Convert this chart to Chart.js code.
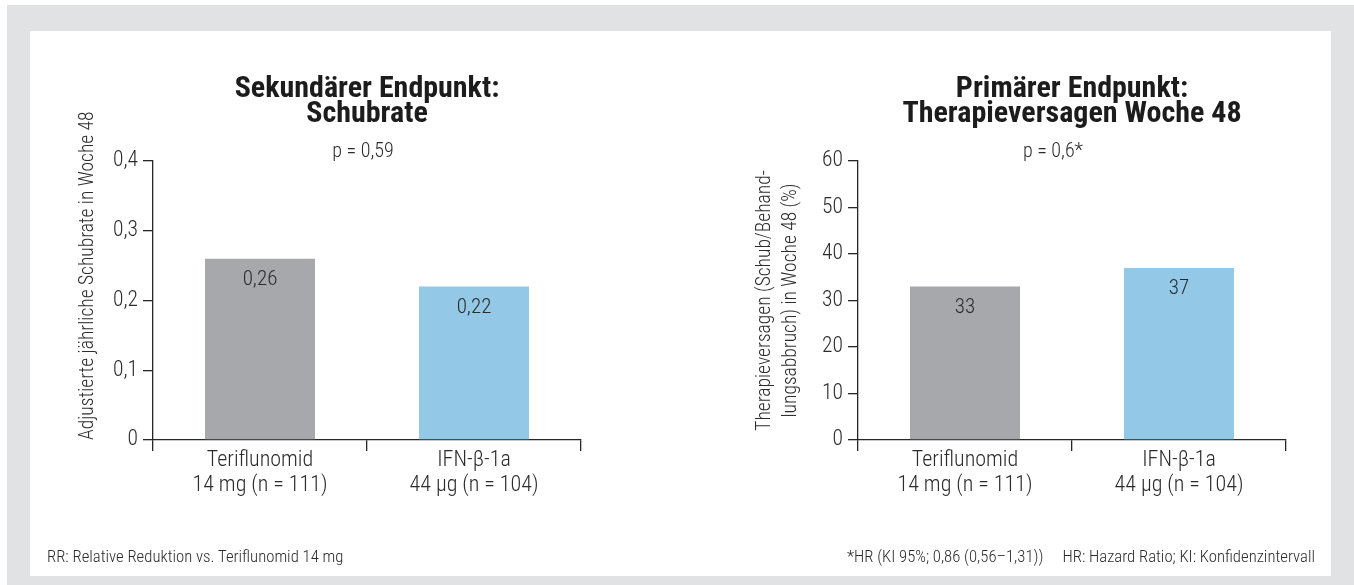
<!DOCTYPE html>
<html lang="de">
<head>
<meta charset="utf-8">
<script src="https://cdn.jsdelivr.net/npm/chart.js@4.4.1/dist/chart.umd.min.js"></script>
<style>
  html, body { margin: 0; padding: 0; background: #fff; }
  body { width: 1354px; height: 585px; position: relative; overflow: hidden;
         font-family: 'Roboto Condensed', 'Liberation Sans Narrow', 'DejaVu Sans Condensed', sans-serif; color: #2b2b2b; }
  #frame { position: absolute; left: 7px; top: 5px; width: 1347px; height: 580px; background: #e1e2e4; }
  #panel { position: absolute; left: 30px; top: 31px; width: 1301px; height: 545px; background: #fff; }
  canvas { position: absolute; top: 0; }
  #chartLeft { left: 0; }
  #chartRight { left: 677px; }
  .note { position: absolute; top: 547px; font-size: 16.7px; font-weight: 300; line-height: 20px; white-space: nowrap; }
  #noteLeft { left: 47px; }
  #noteRight { right: 39px; }
  #noteRight span + span { margin-left: 19px; }
</style>
</head>
<body>
<div id="frame"></div>
<div id="panel"></div>
<canvas id="chartLeft" width="677" height="585"></canvas>
<canvas id="chartRight" width="677" height="585"></canvas>
<div class="note" id="noteLeft">RR: Relative Reduktion vs. Teriflunomid 14 mg</div>
<div class="note" id="noteRight"><span>*HR (KI 95%; 0,86 (0,56–1,31))</span><span>HR: Hazard Ratio; KI: Konfidenzintervall</span></div>

<script>
// Treatment groups (two-line axis labels)
const categories = [
  ['Teriflunomid', '14 mg (n = 111)'],
  ['IFN-β-1a', '44 µg (n = 104)']
];

// Secondary endpoint: adjusted annualised relapse rate at week 48
const relapseRate = [0.26, 0.22];
const relapseTitle = ['Sekundärer Endpunkt:', 'Schubrate'];
const relapseP = 'p = 0,59';
const relapseAxisTitle = 'Adjustierte jährliche Schubrate in Woche 48';

// Primary endpoint: treatment failure at week 48 (%)
const failureRate = [33, 37];
const failureTitle = ['Primärer Endpunkt:', 'Therapieversagen Woche 48'];
const failureP = 'p = 0,6*';
const failureAxisTitle = ['Therapieversagen (Schub/Behand-', 'lungsabbruch) in Woche 48 (%)'];

const barColors = ['#a7a8ac', '#93c8e6'];
const FONT = "'Roboto Condensed', 'Liberation Sans Narrow', 'DejaVu Sans Condensed', sans-serif";
const TEXT = '#2b2b2b';
const LINE = '#262626';

const commaFixed = (v, d) => v.toFixed(d).replace('.', ',');

// Writes each bar's value just inside its top edge
function valueLabels(format) {
  return {
    id: 'valueLabels',
    afterDatasetsDraw(chart) {
      const { ctx } = chart;
      const meta = chart.getDatasetMeta(0);
      ctx.save();
      ctx.font = `300 21px ${FONT}`;
      ctx.fillStyle = TEXT;
      ctx.textAlign = 'center';
      ctx.textBaseline = 'middle';
      meta.data.forEach((bar, i) => {
        ctx.fillText(format(chart.data.datasets[0].data[i]), bar.x, bar.y + 21);
      });
      ctx.restore();
    }
  };
}

// p-value line above the plot
function pValueLabel(text, dx) {
  return {
    id: 'pValueLabel',
    afterDraw(chart) {
      const { ctx, chartArea } = chart;
      ctx.save();
      ctx.font = `300 20px ${FONT}`;
      ctx.fillStyle = TEXT;
      ctx.textAlign = 'center';
      ctx.textBaseline = 'middle';
      ctx.fillText(text, (chartArea.left + chartArea.right) / 2 + dx, chartArea.top - 9);
      ctx.restore();
    }
  };
}

function buildChart(id, cfg) {
  return new Chart(document.getElementById(id), {
    type: 'bar',
    data: {
      labels: categories,
      datasets: [{
        data: cfg.values,
        backgroundColor: barColors,
        borderWidth: 0,
        categoryPercentage: 1,
        barPercentage: 0.514
      }]
    },
    options: {
      responsive: false,
      animation: false,
      events: [],
      layout: { padding: { left: 0, top: 0, bottom: 0, right: cfg.rightPad } },
      plugins: {
        legend: { display: false },
        tooltip: { enabled: false },
        title: {
          display: true,
          fullSize: false,
          text: cfg.title,
          color: '#1c1c1c',
          font: { family: FONT, size: 30, weight: 'bold', lineHeight: 25 / 30 },
          padding: { top: 77, bottom: 34 }
        }
      },
      scales: {
        x: {
          afterFit(scale) { scale.height = 145; },
          grid: { offset: true, drawOnChartArea: false, drawTicks: true, tickLength: 11, color: LINE, lineWidth: 1.3 },
          border: { display: true, color: LINE, width: 1.3 },
          ticks: { color: TEXT, padding: -3, font: { family: FONT, size: 22, weight: 300, lineHeight: 25 / 22 }, maxRotation: 0, autoSkip: false }
        },
        y: {
          min: 0,
          max: cfg.max,
          afterFit(scale) { scale.width = cfg.yWidth; },
          grid: { drawOnChartArea: false, drawTicks: true, tickLength: 10, color: LINE, lineWidth: 1.3 },
          border: { display: true, color: LINE, width: 1.3 },
          ticks: { stepSize: cfg.step, color: TEXT, padding: 5, font: { family: FONT, size: 21.5, weight: 300 }, callback: cfg.tick },
          title: {
            display: true,
            text: cfg.axisTitle,
            align: cfg.axisAlign,
            color: TEXT,
            font: { family: FONT, size: 19.5, weight: 300, lineHeight: 26 / 19.5 },
            padding: { top: 75, bottom: 0 }
          }
        }
      }
    },
    plugins: [valueLabels(cfg.format), pValueLabel(cfg.p, cfg.pShift)]
  });
}

buildChart('chartLeft', {
  values: relapseRate,
  title: relapseTitle,
  p: relapseP,
  pShift: -4,
  axisTitle: relapseAxisTitle,
  axisAlign: 'start',
  max: 0.4,
  step: 0.1,
  yWidth: 153,
  rightPad: 96,
  tick: v => (v === 0 ? '0' : commaFixed(v, 1)),
  format: v => commaFixed(v, 2)
});

buildChart('chartRight', {
  values: failureRate,
  title: failureTitle,
  p: failureP,
  pShift: -19,
  axisTitle: failureAxisTitle,
  axisAlign: 'center',
  max: 60,
  step: 10,
  yWidth: 181,
  rightPad: 68,
  tick: v => String(v),
  format: v => String(v)
});
</script>
</body>
</html>
